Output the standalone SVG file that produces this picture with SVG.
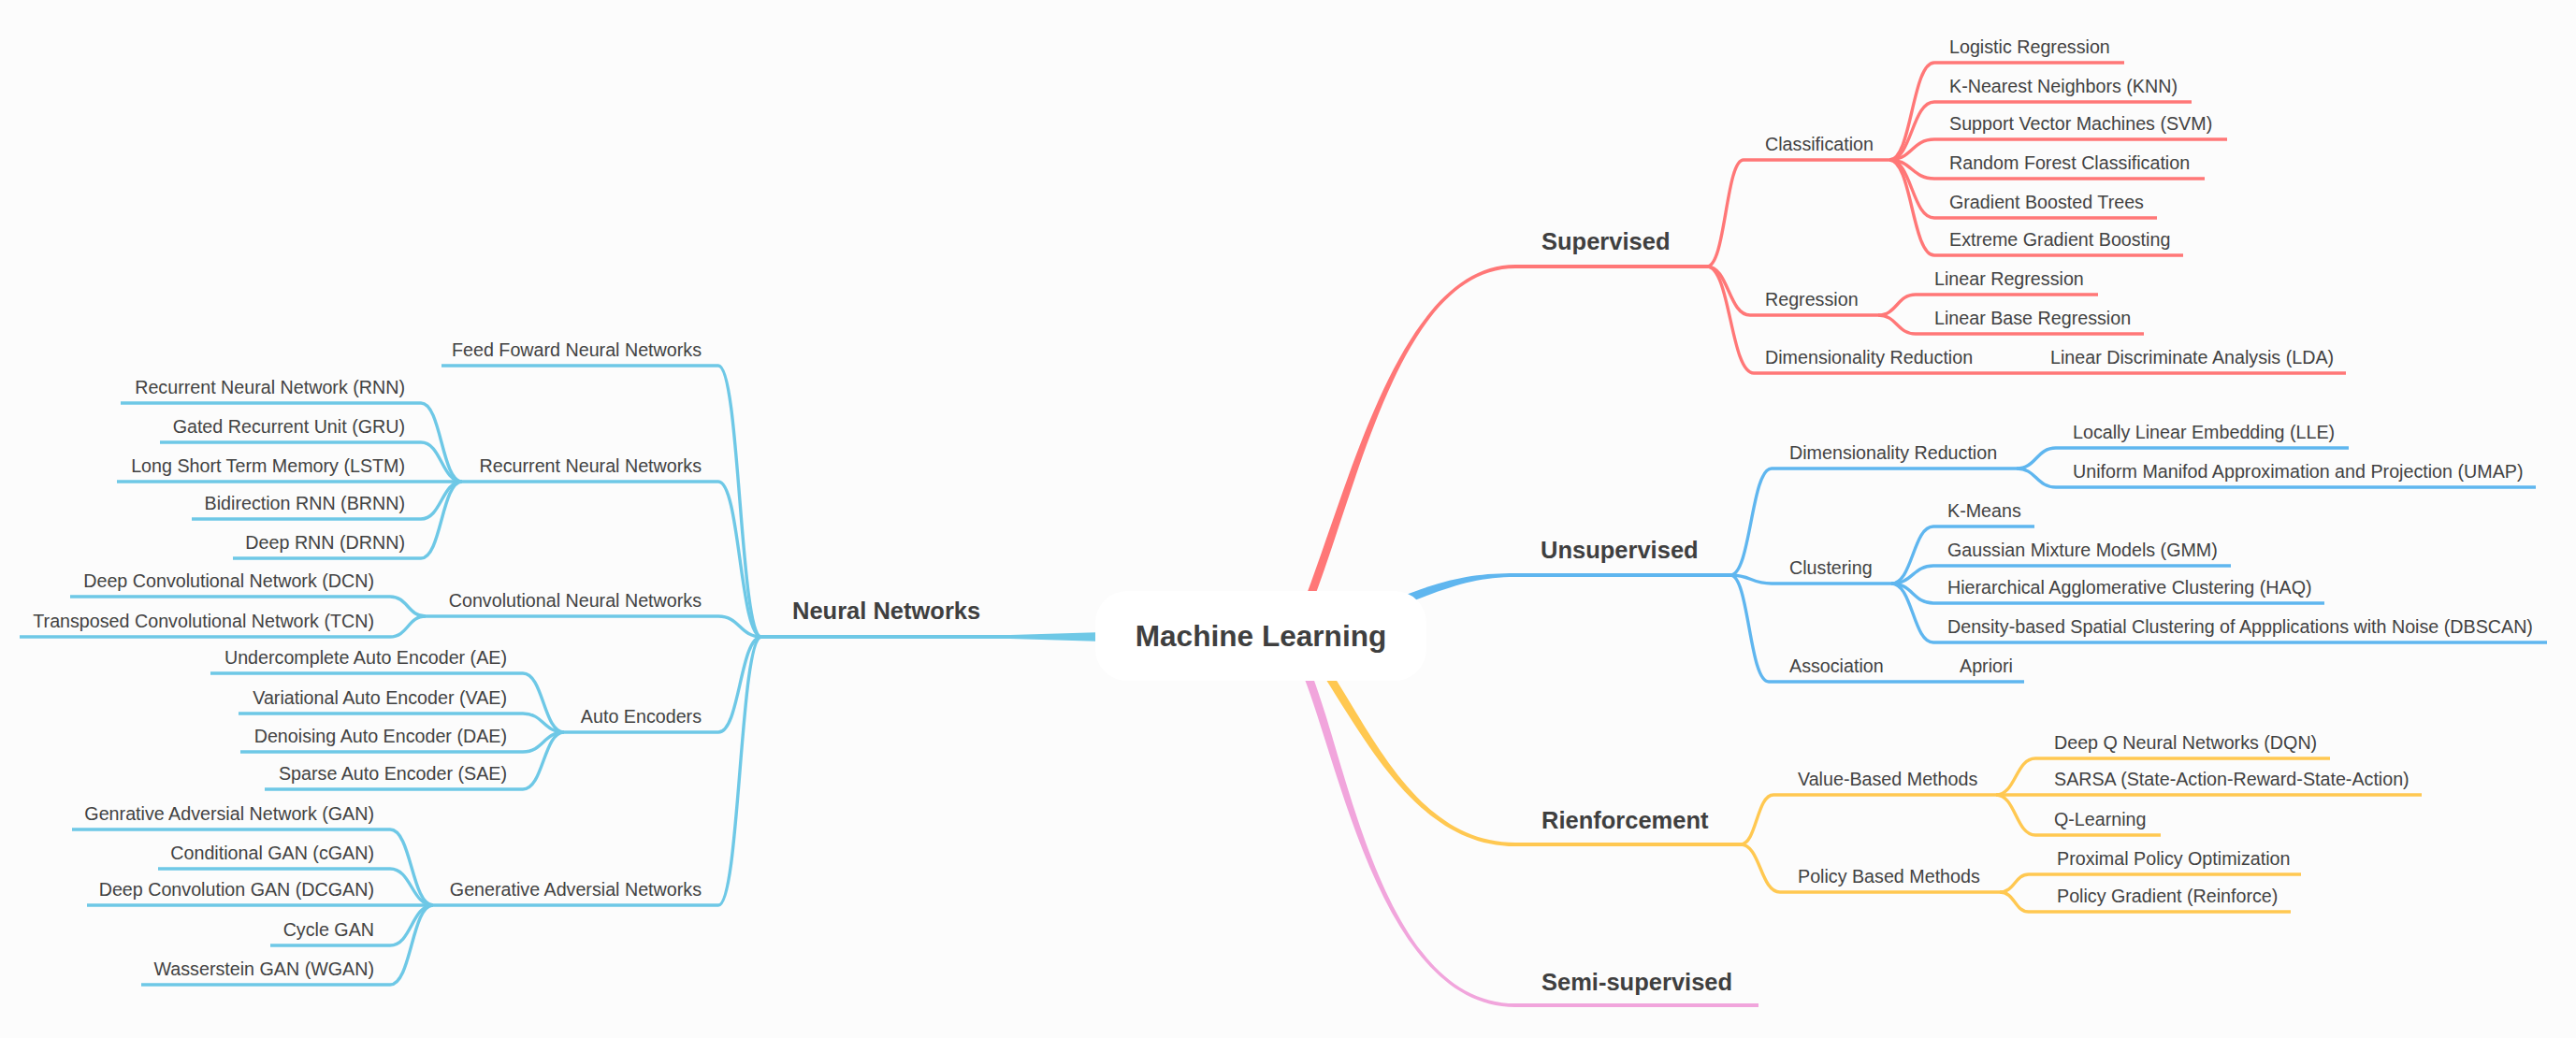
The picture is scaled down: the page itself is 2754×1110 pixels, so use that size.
<svg xmlns="http://www.w3.org/2000/svg" width="2754" height="1110" viewBox="0 0 2754 1110">
<style>
.t{font-family:"Liberation Sans",Arial,sans-serif;font-size:19.7px;fill:#424242}
.e{text-anchor:end}
.b{font-family:"Liberation Sans",Arial,sans-serif;font-size:25.5px;font-weight:bold;fill:#3f3f3f}
.title{font-family:"Liberation Sans",Arial,sans-serif;font-size:31.6px;font-weight:bold;fill:#3f3f3f;text-anchor:middle}
.l{fill:none;stroke-width:3.4;stroke-linecap:butt;stroke-linejoin:round}
.m{fill:none;stroke-width:4}
.nn{stroke:#6ec8e6}.sup{stroke:#ff7777}.uns{stroke:#5fb6ef}.rei{stroke:#ffc851}.sem{stroke:#f1a5dc}
</style>
<rect width="2754" height="1110" fill="#fcfcfc"/>
<g id="connectors">
<path d="M814,679 L1080,679 L1180,676 L1180,686 L1080,683 L814,683 Z" fill="#6ec8e6"/>
<path d="M1395.8,638.4 C1445.8,506.4 1500,283 1620,283 L1620,287 C1500,287 1454.2,509.6 1404.2,641.6 Z" fill="#ff7777"/>
<path d="M1498.3,637.8 C1548.3,617.8 1580,613 1620,613 L1620,617 C1580,617 1551.7,626.2 1501.7,646.2 Z" fill="#5fb6ef"/>
<path d="M1423.8,719.6 C1471.8,794.6 1520,901 1620,901 L1620,905 C1520,905 1464.2,799.4 1416.2,724.4 Z" fill="#ffc851"/>
<path d="M1402.2,720.4 C1442.2,822.4 1480,1073 1620,1073 L1620,1077 C1480,1077 1433.8,825.6 1393.8,723.6 Z" fill="#f1a5dc"/>
<path class="m sup" d="M1619,285 L1826,285"/>
<path class="m uns" d="M1619,615 L1851,615"/>
<path class="m rei" d="M1619,903 L1862,903"/>
<path class="m sem" d="M1619,1075 L1880,1075"/>
<g class="l nn">
<path d="M814,681 C791,681 791,391 768,391 L472,391"/>
<path d="M814,681 C791,681 791,515 768,515 L494,515"/>
<path d="M814,681 C791,681 791,659 768,659 L455,659"/>
<path d="M814,681 C791,681 791,783 768,783 L603,783"/>
<path d="M814,681 C791,681 791,968 768,968 L463,968"/>
<path d="M494,515 C472,515 472,431 450,431 L129,431"/>
<path d="M494,515 C472,515 472,473 450,473 L171,473"/>
<path d="M494,515 L125,515"/>
<path d="M494,515 C472,515 472,555 450,555 L205,555"/>
<path d="M494,515 C472,515 472,597 450,597 L249,597"/>
<path d="M455,659 C436,659 436,638 417,638 L75,638"/>
<path d="M455,659 C436,659 436,681 417,681 L21,681"/>
<path d="M603,783 C581,783 581,720 559,720 L225,720"/>
<path d="M603,783 C581,783 581,763 559,763 L255,763"/>
<path d="M603,783 C581,783 581,804 559,804 L257,804"/>
<path d="M603,783 C581,783 581,844 559,844 L283,844"/>
<path d="M463,968 C440,968 440,887 417,887 L77,887"/>
<path d="M463,968 C440,968 440,929 417,929 L169,929"/>
<path d="M463,968 L93,968"/>
<path d="M463,968 C440,968 440,1011 417,1011 L289,1011"/>
<path d="M463,968 C440,968 440,1053 417,1053 L151,1053"/>
</g>
<g class="l sup">
<path d="M1825,285 C1845,285 1845,171 1864,171 L2020,171"/>
<path d="M1825,285 C1848,285 1848,337 1871,337 L2008,337"/>
<path d="M1825,285 C1850,285 1850,399 1875,399 L2508,399"/>
<path d="M2020,171 C2044,171 2044,67 2068,67 L2271,67"/>
<path d="M2020,171 C2044,171 2044,109 2068,109 L2343,109"/>
<path d="M2020,171 C2044,171 2044,149 2068,149 L2381,149"/>
<path d="M2020,171 C2044,171 2044,191 2068,191 L2357,191"/>
<path d="M2020,171 C2044,171 2044,233 2068,233 L2306,233"/>
<path d="M2020,171 C2044,171 2044,273 2068,273 L2334,273"/>
<path d="M2008,337 C2028,337 2028,315 2048,315 L2243,315"/>
<path d="M2008,337 C2028,337 2028,357 2048,357 L2292,357"/>
</g>
<g class="l uns">
<path d="M1850,615 C1872,615 1872,501 1894,501 L2156,501"/>
<path d="M1850,615 C1872,615 1872,624 1894,624 L2022,624"/>
<path d="M1850,615 C1870,615 1870,729 1891,729 L2164,729"/>
<path d="M2156,501 C2177,501 2177,479 2198,479 L2511,479"/>
<path d="M2156,501 C2177,501 2177,521 2198,521 L2711,521"/>
<path d="M2022,624 C2045,624 2045,563 2067,563 L2175,563"/>
<path d="M2022,624 C2045,624 2045,605 2067,605 L2385,605"/>
<path d="M2022,624 C2045,624 2045,645 2067,645 L2485,645"/>
<path d="M2022,624 C2045,624 2045,687 2067,687 L2723,687"/>
</g>
<g class="l rei">
<path d="M1861,903 C1878,903 1878,850 1896,850 L2134,850"/>
<path d="M1861,903 C1882,903 1882,954 1903,954 L2138,954"/>
<path d="M2134,850 C2155,850 2155,811 2176,811 L2491,811"/>
<path d="M2134,850 L2589,850"/>
<path d="M2134,850 C2155,850 2155,893 2176,893 L2310,893"/>
<path d="M2138,954 C2154,954 2154,935 2169,935 L2460,935"/>
<path d="M2138,954 C2154,954 2154,975 2169,975 L2449,975"/>
</g>
</g>
<g id="root">
<rect x="1171" y="632" width="354" height="96" rx="34" fill="#ffffff"/>
<text class="title" x="1348" y="691">Machine Learning</text>
</g>
<g id="neural-networks"><text class="b" x="847" y="662">Neural Networks</text></g>
<g id="nn-ff"><text class="t e" x="750" y="381">Feed Foward Neural Networks</text></g>
<g id="nn-rnn"><text class="t e" x="750" y="505">Recurrent Neural Networks</text></g>
<g id="nn-cnn"><text class="t e" x="750" y="649">Convolutional Neural Networks</text></g>
<g id="nn-ae"><text class="t e" x="750" y="773">Auto Encoders</text></g>
<g id="nn-gan"><text class="t e" x="750" y="958">Generative Adversial Networks</text></g>
<g id="rnn-1"><text class="t e" x="433" y="421">Recurrent Neural Network (RNN)</text></g>
<g id="rnn-2"><text class="t e" x="433" y="463">Gated Recurrent Unit (GRU)</text></g>
<g id="rnn-3"><text class="t e" x="433" y="505">Long Short Term Memory (LSTM)</text></g>
<g id="rnn-4"><text class="t e" x="433" y="545">Bidirection RNN (BRNN)</text></g>
<g id="rnn-5"><text class="t e" x="433" y="587">Deep RNN (DRNN)</text></g>
<g id="cnn-1"><text class="t e" x="400" y="628">Deep Convolutional Network (DCN)</text></g>
<g id="cnn-2"><text class="t e" x="400" y="671">Transposed Convolutional Network (TCN)</text></g>
<g id="ae-1"><text class="t e" x="542" y="710">Undercomplete Auto Encoder (AE)</text></g>
<g id="ae-2"><text class="t e" x="542" y="753">Variational Auto Encoder (VAE)</text></g>
<g id="ae-3"><text class="t e" x="542" y="794">Denoising Auto Encoder (DAE)</text></g>
<g id="ae-4"><text class="t e" x="542" y="834">Sparse Auto Encoder (SAE)</text></g>
<g id="gan-1"><text class="t e" x="400" y="877">Genrative Adversial Network (GAN)</text></g>
<g id="gan-2"><text class="t e" x="400" y="919">Conditional GAN (cGAN)</text></g>
<g id="gan-3"><text class="t e" x="400" y="958">Deep Convolution GAN (DCGAN)</text></g>
<g id="gan-4"><text class="t e" x="400" y="1001">Cycle GAN</text></g>
<g id="gan-5"><text class="t e" x="400" y="1043">Wasserstein GAN (WGAN)</text></g>
<g id="supervised"><text class="b" x="1648" y="267">Supervised</text></g>
<g id="sup-class"><text class="t" x="1887" y="161">Classification</text></g>
<g id="sup-reg"><text class="t" x="1887" y="327">Regression</text></g>
<g id="sup-dim"><text class="t" x="1887" y="389">Dimensionality Reduction</text></g>
<g id="sup-lda"><text class="t" x="2192" y="389">Linear Discriminate Analysis (LDA)</text></g>
<g id="cls-1"><text class="t" x="2084" y="57">Logistic Regression</text></g>
<g id="cls-2"><text class="t" x="2084" y="99">K-Nearest Neighbors (KNN)</text></g>
<g id="cls-3"><text class="t" x="2084" y="139">Support Vector Machines (SVM)</text></g>
<g id="cls-4"><text class="t" x="2084" y="181">Random Forest Classification</text></g>
<g id="cls-5"><text class="t" x="2084" y="223">Gradient Boosted Trees</text></g>
<g id="cls-6"><text class="t" x="2084" y="263">Extreme Gradient Boosting</text></g>
<g id="reg-1"><text class="t" x="2068" y="305">Linear Regression</text></g>
<g id="reg-2"><text class="t" x="2068" y="347">Linear Base Regression</text></g>
<g id="unsupervised"><text class="b" x="1647" y="597">Unsupervised</text></g>
<g id="uns-dim"><text class="t" x="1913" y="491">Dimensionality Reduction</text></g>
<g id="dim-1"><text class="t" x="2216" y="469">Locally Linear Embedding (LLE)</text></g>
<g id="dim-2"><text class="t" x="2216" y="511">Uniform Manifod Approximation and Projection (UMAP)</text></g>
<g id="uns-clu"><text class="t" x="1913" y="614">Clustering</text></g>
<g id="clu-1"><text class="t" x="2082" y="553">K-Means</text></g>
<g id="clu-2"><text class="t" x="2082" y="595">Gaussian Mixture Models (GMM)</text></g>
<g id="clu-3"><text class="t" x="2082" y="635">Hierarchical Agglomerative Clustering (HAQ)</text></g>
<g id="clu-4"><text class="t" x="2082" y="677">Density-based Spatial Clustering of Appplications with Noise (DBSCAN)</text></g>
<g id="uns-asc"><text class="t" x="1913" y="719">Association</text></g>
<g id="asc-1"><text class="t" x="2095" y="719">Apriori</text></g>
<g id="rienforcement"><text class="b" x="1648" y="886">Rienforcement</text></g>
<g id="rei-val"><text class="t" x="1922" y="840">Value-Based Methods</text></g>
<g id="val-1"><text class="t" x="2196" y="801">Deep Q Neural Networks (DQN)</text></g>
<g id="val-2"><text class="t" x="2196" y="840">SARSA (State-Action-Reward-State-Action)</text></g>
<g id="val-3"><text class="t" x="2196" y="883">Q-Learning</text></g>
<g id="rei-pol"><text class="t" x="1922" y="944">Policy Based Methods</text></g>
<g id="pol-1"><text class="t" x="2199" y="925">Proximal Policy Optimization</text></g>
<g id="pol-2"><text class="t" x="2199" y="965">Policy Gradient (Reinforce)</text></g>
<g id="semi-supervised"><text class="b" x="1648" y="1059">Semi-supervised</text></g>
</svg>
